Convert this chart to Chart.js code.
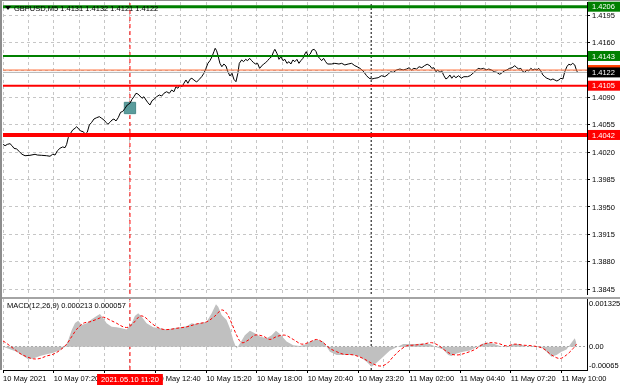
<!DOCTYPE html>
<html>
<head>
<meta charset="utf-8">
<script src="https://cdn.jsdelivr.net/npm/chart.js@4.4.1/dist/chart.umd.min.js"></script>
<style>
html, body { margin: 0; padding: 0; background: #fff; }
#wrap { position: relative; width: 620px; height: 388px; overflow: hidden; }
#price-box { position: absolute; left: 0; top: 0; width: 620px; height: 297px; }
#macd-box { position: absolute; left: 0; top: 297px; width: 620px; height: 91px; }
</style>
</head>
<body>
<div id="wrap">
    <div id="price-box"><canvas id="price"></canvas></div>
    <div id="macd-box"><canvas id="macd"></canvas></div>
</div>
<script>
// ---- data (x = bar number, M5 bars) ----
const symbolTitle = 'GBPUSD,M5 1.4131 1.4132 1.4121 1.4122';
const macdTitle = 'MACD(12,26,9) 0.000213 0.000057';

const barIdx = [
    0, 1.3, 2.7, 4.4, 5.7, 6.9, 8.6, 10.3, 12, 13.9,
    17, 20.2, 21.6, 24.4, 27.5, 29.6, 31.3, 32.8, 34.2, 35.9,
    37.6, 39.1, 40.1, 41.1, 42.2, 43.9, 45.4, 46.4, 47.7, 48.9,
    50.6, 51.8, 53.1, 54.4, 55.9, 57.3, 59, 60.7, 62.2, 63.6,
    64.9, 66.1, 67.4, 68.7, 69.9, 71.2, 72.6, 74.1, 75.4, 76.9,
    78.3, 80, 81.3, 82.5, 83.8, 85, 86.3, 87.6, 88.8, 90.1,
    91.3, 92.6, 93.9, 95.1, 96.8, 98.5, 100, 101.4, 103.1, 104.8,
    106.3, 107.7, 109, 110.2, 111.5, 112.8, 114, 115.3, 116.5, 117.8,
    119, 120.3, 122, 123.7, 125.2, 126.6, 127.9, 129.1, 130.4, 131.7,
    132.9, 133.7, 134.6, 135.4, 136.7, 137.9, 139.2, 140.5, 141.7, 143,
    144.3, 145.5, 146.8, 148, 148.9,
    150.4, 151.6, 152.9, 154.1, 155.4, 156.7, 157.9, 159.2, 160.4, 161.7,
    163, 164.2, 165.5, 166.7, 168, 169.3, 170.5, 171.3, 172.6, 173.9,
    175.1, 176.4, 177.6, 178.9, 180.2, 181.4, 182.7, 183.9, 185.2, 186.5,
    187.7, 189, 190.2, 191.1, 192.3, 193.6, 194.8, 196.1, 197.3, 198.2,
    199.5, 200.8, 202, 203.3, 204.5, 207, 209.1, 211.7, 213.4, 215.4,
    217.5, 219.7,
    221.7, 223.1, 224.9, 226.9, 229.1, 230.7, 232.4, 234.3, 236.4, 238.5,
    240.6, 242.7, 244.2, 245.9, 248, 250.1, 252.2, 254.3, 255.9, 257.4,
    258.9, 260.6, 262.2, 263.9, 265.6, 267.3, 269, 270.2, 271.5, 272.8,
    274, 275.3, 276.5, 277.8, 279.1, 280.3, 281.6, 282.8, 284.1, 285.4,
    287.1, 288.7, 290.4,
    292.7, 294.4, 296.1, 297.8, 299.4, 301.1, 302.8, 304.4, 306.1, 307.8,
    309.5, 311.2, 312.9, 314.1, 315.8, 317.5, 319.2, 320.8, 322.5, 323.8,
    325, 326.3, 327.6, 328.8, 330.1, 331.3, 332.6, 333.9, 335.1, 336.4,
    337.6, 338.9, 340.2, 341.4, 342.7, 343.9, 345.2, 346.5, 347.7, 349,
    350.2, 351.5, 352.8, 354, 355.3, 356.5, 357.8, 359, 360.3, 361.1,
    362
];
const closes = [
    1.40300, 1.40283, 1.40300, 1.40309, 1.40283, 1.40250, 1.40241, 1.40207, 1.40173, 1.40155,
    1.40160, 1.40173, 1.40164, 1.40160, 1.40155, 1.40148, 1.40173, 1.40164, 1.40216, 1.40250,
    1.40267, 1.40258, 1.40300, 1.40385, 1.40429, 1.40484, 1.40506, 1.40526, 1.40497, 1.40471,
    1.40462, 1.40429, 1.40455, 1.40548, 1.40582, 1.40624, 1.40641, 1.40654, 1.40633, 1.40612,
    1.40582, 1.40557, 1.40582, 1.40612, 1.40624, 1.40599, 1.40641, 1.40710, 1.40720, 1.40761,
    1.40803, 1.40825, 1.40876, 1.40909, 1.40953, 1.40944, 1.40918, 1.40889, 1.40909, 1.40867,
    1.40833, 1.40803, 1.40858, 1.40876, 1.40909, 1.40931, 1.40918, 1.40953, 1.40973, 1.40953,
    1.40995, 1.40973, 1.41037, 1.41017, 1.41059, 1.41037, 1.41081, 1.41123, 1.41081, 1.41132,
    1.41145, 1.41123, 1.41097, 1.41132, 1.41165, 1.41209, 1.41272, 1.41336, 1.41370, 1.41421,
    1.41485, 1.41528, 1.41497, 1.41442, 1.41336, 1.41293, 1.41327, 1.41302, 1.41229, 1.41174,
    1.41209, 1.41132, 1.41101, 1.41209, 1.41336,
    1.41379, 1.41357, 1.41387, 1.41370, 1.41400, 1.41370, 1.41344, 1.41327, 1.41336, 1.41272,
    1.41302, 1.41327, 1.41344, 1.41370, 1.41400, 1.41421, 1.41485, 1.41515, 1.41464, 1.41387,
    1.41421, 1.41370, 1.41387, 1.41336, 1.41357, 1.41327, 1.41379, 1.41357, 1.41387, 1.41336,
    1.41370, 1.41400, 1.41455, 1.41485, 1.41430, 1.41455, 1.41506, 1.41515, 1.41485, 1.41430,
    1.41400, 1.41370, 1.41400, 1.41357, 1.41327, 1.41327, 1.41336, 1.41327, 1.41336, 1.41315,
    1.41327, 1.41336,
    1.41306, 1.41293, 1.41272, 1.41238, 1.41178, 1.41145, 1.41136, 1.41145, 1.41152, 1.41178,
    1.41165, 1.41196, 1.41229, 1.41220, 1.41251, 1.41263, 1.41251, 1.41263, 1.41280, 1.41251,
    1.41272, 1.41263, 1.41293, 1.41280, 1.41306, 1.41324, 1.41306, 1.41272, 1.41280, 1.41229,
    1.41251, 1.41220, 1.41238, 1.41178, 1.41136, 1.41152, 1.41187, 1.41145, 1.41178, 1.41152,
    1.41178, 1.41145, 1.41165,
    1.41165, 1.41178, 1.41209, 1.41238, 1.41272, 1.41263, 1.41272, 1.41251, 1.41263, 1.41251,
    1.41229, 1.41220, 1.41196, 1.41209, 1.41238, 1.41251, 1.41272, 1.41280, 1.41306, 1.41280,
    1.41263, 1.41272, 1.41229, 1.41220, 1.41251, 1.41238, 1.41272, 1.41251, 1.41263, 1.41251,
    1.41272, 1.41238, 1.41187, 1.41165, 1.41145, 1.41136, 1.41123, 1.41136, 1.41123, 1.41110,
    1.41123, 1.41145, 1.41136, 1.41229, 1.41293, 1.41324, 1.41315, 1.41336, 1.41315, 1.41263,
    1.41220
];

const histIdx = [
    0, 4.4, 8.6, 12.8, 15.9, 19.1, 23.3, 27.5, 31.7, 35.9,
    39.1, 41.1, 43.3, 45.4, 47.4, 49.6, 52.7, 55.9, 59, 61.1,
    63.2, 65.3, 68.5, 71.6, 74.8, 77.9, 81.1, 83.1, 85.2, 87.4,
    90.5, 94.7, 98.9, 103.1, 107.3, 111.5, 115.7, 118.9, 120.9, 124.1,
    128.3, 131.5, 134.2, 135.6, 137.8, 140.9, 143.4, 145.1, 147.2, 149.3,
    152.4, 155.6, 158.7, 161.9, 166.1, 169.3, 172, 174.5, 178.7, 182.9,
    187.1, 191.3, 193.4, 197.6, 201.8, 206, 210.2, 214.4, 220.7, 224.9,
    229.1, 232.3, 235.4, 239.6, 243.8, 248, 252.2, 256.4, 260.6, 264.8,
    269, 273.2, 277.4, 280.6, 282.6, 285.8, 290, 294.2, 298.4, 301.5,
    304.7, 308.9, 313.1, 317.3, 321.4, 325.7, 329.9, 334, 338.3, 342.5,
    345.6, 348.8, 351.9, 355.1, 358.2, 360.3, 361.4
];
const macdHist = [
    0, -0.000075, -0.00014, -0.00026, -0.00035, -0.00033, -0.00026, -0.00021, -0.00017, -0.0001,
    0, 0.00018, 0.00046, 0.00066, 0.00072, 0.0006, 0.00065, 0.00076, 0.00085, 0.00091,
    0.00079, 0.00065, 0.00055, 0.00054, 0.00051, 0.00048, 0.00065, 0.00085, 0.00093, 0.00083,
    0.00065, 0.00054, 0.00051, 0.00048, 0.00051, 0.00054, 0.00057, 0.00065, 0.00063, 0.00066,
    0.00069, 0.00093, 0.00118, 0.00111, 0.00088, 0.00074, 0.00046, 0.00018, -0.00005, 0.00009,
    0.00032, 0.00044, 0.00037, 0.00028, 0.00023, 0.00032, 0.00044, 0.00035, 0.00014, 0.00004,
    0.00002, 0.00007, 0.00014, 0.0002, 0.00014, -0.00014, -0.00023, -0.00023, -0.00023, -0.00028,
    -0.00042, -0.00056, -0.00045, -0.00028, -0.00011, -0.00002, 0.00007, 0.00007, 0.00007, 0.00009,
    0.00007, -0.00002, -0.00008, -0.00023, -0.00026, -0.00019, -0.00014, -0.00011, -0.00002, 0.00007,
    0.00011, 0.00009, 0.00002, -0.00002, 0.00007, 0.00007, 0, 0.00002, 0.00002, -0.00014,
    -0.00028, -0.00023, -0.00014, -0.00008, 0.00011, 0.00023, 0.00009
];

const sigIdx = [
    0, 2.3, 6.5, 10.7, 14.9, 19.1, 23.3, 27.5, 31.7, 35.9,
    40.1, 43.3, 46.4, 50.6, 54.8, 59, 63.2, 67.4, 71.6, 75.8,
    78.9, 82.1, 86.3, 89.4, 92.6, 96.8, 101, 105.2, 109.4, 115.7,
    122, 128.3, 133.5, 137.8, 140.9, 144.1, 147.2, 150.4, 154.5, 158.7,
    164, 168.2, 172.4, 177.6, 182.9, 188.2, 192.3, 197.6, 201.8, 206,
    210.2, 214.4, 220.7, 227, 232.3, 237.5, 241.7, 245.9, 250.1, 254.3,
    258.4, 264.8, 270, 274.2, 278.4, 282.6, 286.8, 292.1, 297.3, 301.5,
    306.8, 312, 317.3, 322.5, 327.8, 334, 340.3, 345.6, 350.9, 355.1,
    359.3, 361.4
];
const macdSignal = [
    0.00016, 0.00009, -0.00005, -0.00019, -0.00028, -0.00034, -0.00033, -0.00026, -0.00021, -0.0001,
    0.00007, 0.00028, 0.00048, 0.00065, 0.00069, 0.00076, 0.00082, 0.00074, 0.00065, 0.00055,
    0.00054, 0.00065, 0.00085, 0.00082, 0.00069, 0.00055, 0.00048, 0.00048, 0.00051, 0.00055,
    0.00063, 0.00069, 0.00085, 0.00102, 0.00093, 0.00065, 0.00032, 0.00011, 0.00018, 0.00032,
    0.00029, 0.0002, 0.00028, 0.00032, 0.0002, 0.00007, 0.00011, 0.0002, 0.00011, -0.00005,
    -0.00014, -0.00021, -0.00023, -0.00033, -0.00046, -0.00054, -0.00048, -0.00028, -0.0001, 0.00002,
    0.00004, 0.00007, 0.00011, 0.00004, -0.0001, -0.00021, -0.00023, -0.00017, -0.00008, 0.00004,
    0.00011, 0.00009, 0.00002, 0.00007, 0.00004, 0.00002, -0.00005, -0.00023, -0.00033, -0.00023,
    -0.00005, 0.00007
];

const levelPrices = [1.4206, 1.4143, 1.4105, 1.4042];
const askPrice = 1.4125;
const bidPrice = 1.4122;
const entryBar = 80;
const entryPrice = 1.40765;
const signalBar = 80;
const signalTime = '2021.05.10 11:20';
const dayBreakBar = 232;

const priceTicks = [1.3845, 1.3880, 1.3915, 1.3950, 1.3985, 1.4020, 1.4055, 1.4090, 1.4125, 1.4160, 1.4195];
const timeLabels = ['10 May 2021', '10 May 07:20', '10 May 10:00', '10 May 12:40', '10 May 15:20', '10 May 18:00',
    '10 May 20:40', '10 May 23:20', '11 May 02:00', '11 May 04:40', '11 May 07:20', '11 May 10:00'];
const macdTicks = [0.001325, 0, -0.00065];
const macdTickLabels = ['0.001325', '0.00', '-0.00065'];

// ---- axis ranges / styles ----
const BAR_SPAN = 368;
const PRICE_MIN = 1.38387;
const PRICE_MAX = 1.4212;
const MACD_MIN = -0.00065;
const MACD_MAX = 0.001325;
const FONT = '"Liberation Sans", Arial, sans-serif';
const levelColors = ['#008000', '#008000', '#ff0000', '#ff0000'];
const levelWidths = [3, 2, 2, 4];
const gridColor = '#c6c6c6';

Chart.defaults.font.family = FONT;
Chart.defaults.font.size = 7.5;
Chart.defaults.color = '#000';

const timeGrid = [];
for (let b = 0; b <= BAR_SPAN; b += 16) timeGrid.push(b);

function pts(xs, ys) {
    return xs.map((x, i) => ({ x: x, y: ys[i] }));
}

function flatLine(value, color, width) {
    return {
        data: [{ x: 0, y: value }, { x: BAR_SPAN, y: value }],
        borderColor: color, borderWidth: width, pointRadius: 0
    };
}

function vLine(bar, lo, hi, color, dash) {
    return {
        data: [{ x: bar, y: lo }, { x: bar, y: hi }],
        borderColor: color, borderWidth: 1, borderDash: dash, pointRadius: 0
    };
}

const priceDecor = {
    id: 'priceDecor',
    afterDraw(chart) {
        const ctx = chart.ctx;
        const a = chart.chartArea;
        const y = chart.scales.y;
        ctx.save();
        ctx.fillStyle = '#8c8c8c';
        ctx.fillRect(0, 0, chart.width, 1);
        ctx.fillRect(0, 0, 2, chart.height);

        ctx.font = '7.5px ' + FONT;
        ctx.textBaseline = 'middle';

        // price scale labels
        ctx.fillStyle = '#000';
        priceTicks.forEach(v => {
            ctx.fillText(v.toFixed(4), a.right + 5, y.getPixelForValue(v) + 0.5);
        });

        // symbol line
        ctx.beginPath();
        ctx.moveTo(5, 6); ctx.lineTo(11, 6); ctx.lineTo(8, 10); ctx.closePath();
        ctx.fill();
        ctx.fillText(symbolTitle, 14, 8.5);

        // price tags on the right scale
        const tags = [
            { v: levelPrices[0], bg: '#008000' },
            { v: levelPrices[1], bg: '#008000' },
            { v: askPrice, bg: '#ff4000' },
            { v: bidPrice, bg: '#000000' },
            { v: levelPrices[2], bg: '#ff0000' },
            { v: levelPrices[3], bg: '#ff0000' }
        ];
        tags.forEach(t => {
            const py = y.getPixelForValue(t.v);
            ctx.fillStyle = t.bg;
            ctx.fillRect(a.right + 1, py - 5, chart.width - a.right - 1, 10);
            ctx.fillStyle = '#fff';
            ctx.fillText(t.v.toFixed(4), a.right + 5, py + 0.5);
        });
        ctx.restore();
    }
};

const macdDecor = {
    id: 'macdDecor',
    afterDraw(chart) {
        const ctx = chart.ctx;
        const a = chart.chartArea;
        const x = chart.scales.x;
        const y = chart.scales.y;
        ctx.save();
        ctx.fillStyle = '#a4a4a4';
        ctx.fillRect(0, 0, chart.width, 2);
        ctx.fillStyle = '#8c8c8c';
        ctx.fillRect(0, 0, 2, a.bottom);

        ctx.font = '7.5px ' + FONT;
        ctx.textBaseline = 'middle';
        ctx.fillStyle = '#000';
        ctx.fillText(macdTitle, 7, 8.5);

        macdTicks.forEach((v, i) => {
            let py = y.getPixelForValue(v);
            py = Math.min(Math.max(py, a.top + 5), a.bottom - 4);
            ctx.fillText(macdTickLabels[i], a.right + 2, py);
        });

        const mx = x.getPixelForValue(signalBar);
        const w = ctx.measureText(signalTime).width + 8;
        ctx.fillStyle = '#ff0000';
        ctx.fillRect(mx - w / 2, a.bottom + 4, w, 11);
        ctx.fillStyle = '#fff';
        ctx.textAlign = 'center';
        ctx.fillText(signalTime, mx, a.bottom + 9.5);
        ctx.restore();
    }
};

const priceDatasets = levelPrices.map((p, i) => flatLine(p, levelColors[i], levelWidths[i]));
priceDatasets.push(flatLine(askPrice, '#ff6a33', 1));
priceDatasets.push(flatLine(bidPrice, '#b4b4b4', 1));
priceDatasets.push({
    data: pts(barIdx, closes),
    borderColor: '#000', borderWidth: 1, pointRadius: 0
});
priceDatasets.push({
    data: [{ x: entryBar, y: entryPrice }],
    showLine: false, pointStyle: 'rect', pointRadius: 8,
    pointBackgroundColor: '#5a9c9c', pointBorderColor: '#4a8a8a', pointBorderWidth: 1
});
priceDatasets.push(vLine(signalBar, PRICE_MIN, PRICE_MAX, '#ff0000', [4, 3]));
priceDatasets.push(vLine(dayBreakBar, PRICE_MIN, PRICE_MAX, '#000', [2, 2]));

new Chart('price', {
    type: 'line',
    data: { datasets: priceDatasets },
    options: {
        responsive: true,
        maintainAspectRatio: false,
        animation: false,
        layout: { autoPadding: false, padding: { left: 3, top: 2, right: 0, bottom: 3 } },
        plugins: { legend: { display: false }, tooltip: { enabled: false } },
        elements: { line: { tension: 0 } },
        scales: {
            x: {
                type: 'linear', min: 0, max: BAR_SPAN,
                afterBuildTicks: s => { s.ticks = timeGrid.map(v => ({ value: v })); },
                afterFit: s => { s.height = 0; },
                ticks: { display: false },
                grid: { color: gridColor, drawTicks: false },
                border: { display: false, dash: [3, 3] }
            },
            y: {
                position: 'right', min: PRICE_MIN, max: PRICE_MAX,
                afterBuildTicks: s => { s.ticks = priceTicks.map(v => ({ value: v })); },
                afterFit: s => { s.width = 33; },
                ticks: { display: false },
                grid: { color: gridColor, tickLength: 3, tickColor: '#000' },
                border: { display: true, color: '#000', width: 1, dash: [3, 3] }
            }
        }
    },
    plugins: [priceDecor]
});

new Chart('macd', {
    type: 'line',
    data: {
        datasets: [
            {
                data: pts(sigIdx, macdSignal),
                borderColor: '#ff0000', borderWidth: 1, borderDash: [3, 2],
                pointRadius: 0, tension: 0.35
            },
            {
                data: pts(histIdx, macdHist),
                borderWidth: 0, borderColor: 'rgba(0,0,0,0)',
                backgroundColor: '#c0c0c0', fill: 'origin', pointRadius: 0
            },
            vLine(signalBar, MACD_MIN, MACD_MAX, '#ff0000', [4, 3]),
            vLine(dayBreakBar, MACD_MIN, MACD_MAX, '#000', [2, 2])
        ]
    },
    options: {
        responsive: true,
        maintainAspectRatio: false,
        animation: false,
        layout: { autoPadding: false, padding: { left: 3, top: 2, right: 0, bottom: 0 } },
        plugins: { legend: { display: false }, tooltip: { enabled: false }, filler: { propagate: false } },
        scales: {
            x: {
                type: 'linear', min: 0, max: BAR_SPAN,
                afterBuildTicks: s => { s.ticks = timeGrid.map(v => ({ value: v })); },
                afterFit: s => { s.height = 18; },
                ticks: {
                    autoSkip: false, maxRotation: 0, align: 'start', padding: 1,
                    callback: (v, i) => (i % 2 === 0 && timeLabels[i / 2]) ? timeLabels[i / 2] : ''
                },
                grid: {
                    color: gridColor, tickLength: 3,
                    tickColor: c => (c.index % 2 === 0 ? '#000' : 'rgba(0,0,0,0)')
                },
                border: { display: true, color: '#000', dash: [3, 3] }
            },
            y: {
                position: 'right', min: MACD_MIN, max: MACD_MAX,
                afterBuildTicks: s => { s.ticks = macdTicks.map(v => ({ value: v })); },
                afterFit: s => { s.width = 33; },
                ticks: { display: false },
                grid: {
                    drawTicks: false,
                    color: c => (c.tick && c.tick.value === 0 ? '#a0a0a0' : 'rgba(0,0,0,0)')
                },
                border: { display: true, color: '#000', dash: [2, 2] }
            }
        }
    },
    plugins: [macdDecor]
});
</script>
</body>
</html>
